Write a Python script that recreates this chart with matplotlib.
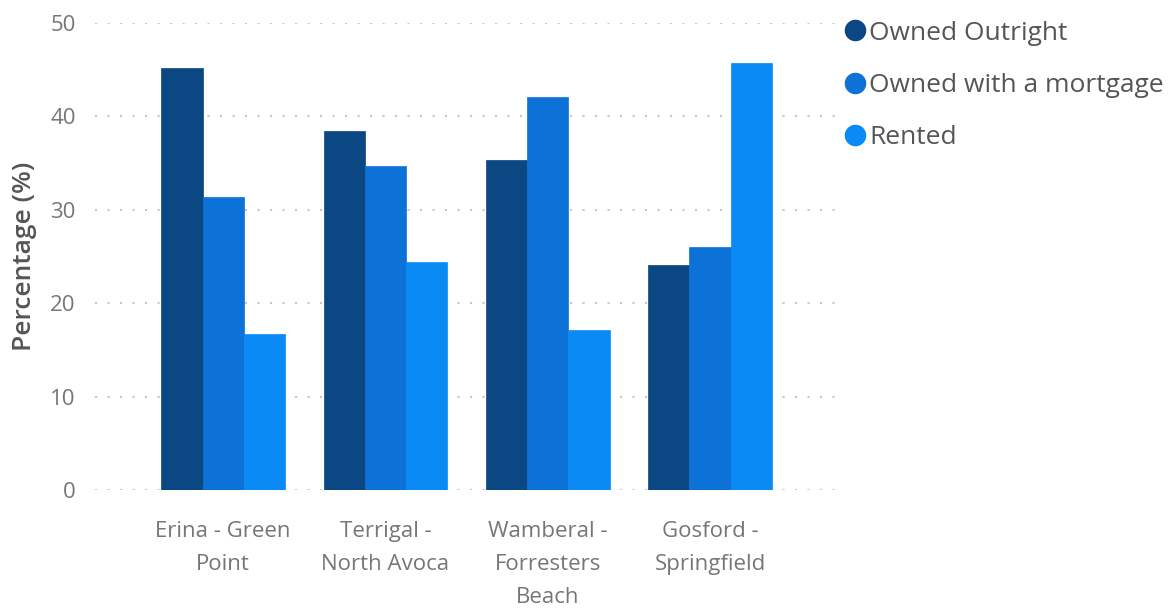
import matplotlib.pyplot as plt
import numpy as np
from matplotlib.lines import Line2D

# --- data ---
areas = ["Erina - Green\nPoint", "Terrigal -\nNorth Avoca", "Wamberal -\nForresters\nBeach", "Gosford -\nSpringfield"]
tenure = ["Owned Outright", "Owned with a mortgage", "Rented"]
owned_outright = [45.2, 38.4, 35.3, 24.1]
owned_mortgage = [31.4, 34.7, 42.1, 26.0]
rented = [16.7, 24.4, 17.1, 45.7]
y_ticks = [0, 10, 20, 30, 40, 50]

# --- style ---
COLORS = ["#0B4782", "#0D72D7", "#0A8AF4"]
FONT = ["Open Sans", "DejaVu Sans"]
TICK_COLOR = "#767676"
BAR_W = 0.254
W, H = 1172, 608

plt.rcParams["font.family"] = FONT

fig = plt.figure(figsize=(W / 100, H / 100), dpi=100)
ax = fig.add_axes([95 / W, 118 / H, 740 / W, 467 / H])

x = np.arange(len(areas))
series = [owned_outright, owned_mortgage, rented]
for i, (vals, col) in enumerate(zip(series, COLORS)):
    ax.bar(x + (i - 1) * BAR_W, vals, width=BAR_W, color=col,
           edgecolor=col, linewidth=0.5, zorder=3)

ax.set_xlim(-0.79, 3.77)
ax.set_ylim(0, 50)
ax.set_yticks(y_ticks)
ax.set_xticks(x)
ax.set_xticklabels(areas, fontsize=16, color=TICK_COLOR, linespacing=1.75)
ax.tick_params(axis="y", labelsize=16, labelcolor=TICK_COLOR, length=0, pad=14)
ax.tick_params(axis="x", length=0, pad=22)

# dotted horizontal gridlines
ax.yaxis.grid(True, color="#c6c6c6", linestyle=(0, (1, 5)), linewidth=1.5, zorder=0)
ax.xaxis.grid(False)
for s in ax.spines.values():
    s.set_visible(False)

ax.set_ylabel("Percentage (%)", fontsize=19, color="#555555", fontweight="semibold")
ax.yaxis.set_label_coords(-0.078, 0.5)

# legend: round swatch + label, stacked at the top right
leg_x, leg_y0, leg_dy = 855 / W, 1 - 30 / H, 52.5 / H
for i, (name, col) in enumerate(zip(tenure, COLORS)):
    y = leg_y0 - i * leg_dy
    fig.add_artist(Line2D([leg_x], [y], transform=fig.transFigure, marker="o",
                          markersize=14.5, markerfacecolor=col, markeredgecolor=col,
                          linestyle="none"))
    fig.text(leg_x + 14 / W, y, name, fontsize=19, color="#555555",
             ha="left", va="center_baseline")

fig.savefig("out.png", dpi=100)
